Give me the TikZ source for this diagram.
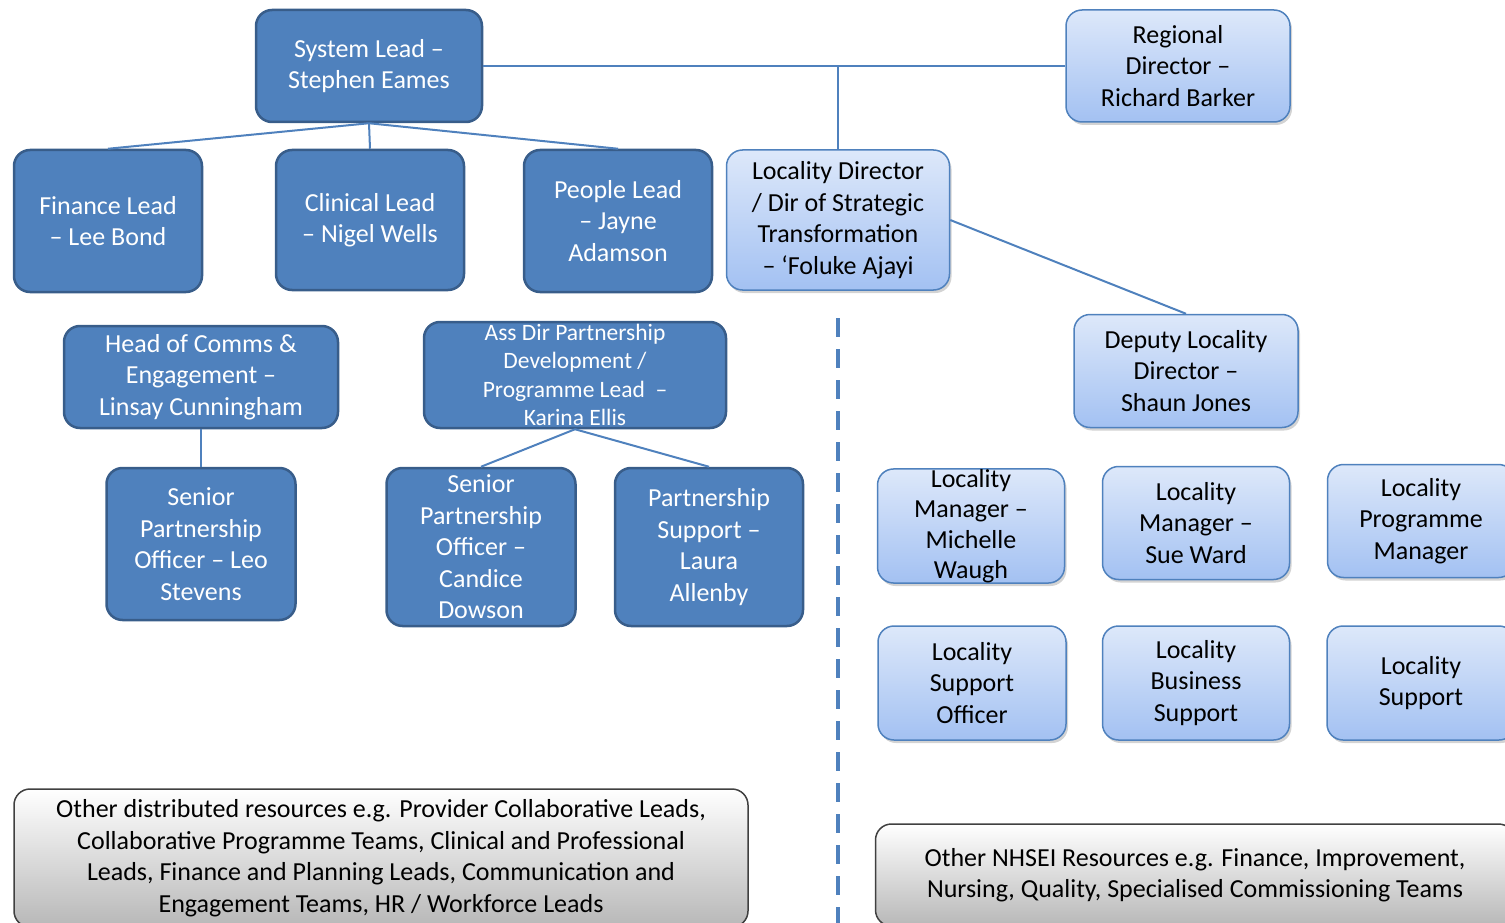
\documentclass[tikz,border=0pt]{standalone}
\usepackage{fontspec}
\setmainfont{Carlito}
\usetikzlibrary{shadows}

\definecolor{darkblue}{HTML}{4F81BD}
\definecolor{edgeblue}{HTML}{385D8A}
\definecolor{paleblue}{HTML}{DDE8FA}
\definecolor{midblue}{HTML}{A3C1F2}

\tikzset{
  orgbox/.style={rounded corners=16pt, inner sep=0pt, align=center, font=\fontsize{26}{31.5}\selectfont},
  darkbox/.style={orgbox, draw=edgeblue, line width=2.5pt, fill=darkblue, text=white},
  lightbox/.style={orgbox, draw=darkblue, line width=1.5pt, top color=paleblue, bottom color=midblue,
    drop shadow={shadow xshift=2pt, shadow yshift=-3pt, opacity=0.35}},
  greybox/.style={orgbox, draw=black!75, line width=1.5pt, top color=white, bottom color=black!28},
  link/.style={draw=darkblue, line width=2pt},
  divider/.style={draw=darkblue, line width=4pt, dash pattern=on 19pt off 12pt}
}

\begin{document}
\begin{tikzpicture}[x=1pt,y=-1pt]
	\useasboundingbox (0,0) rectangle (1505,923);

	% top row
	\draw (369,66) node[darkbox, minimum width=226pt, minimum height=112pt] (sys) {System Lead –\\Stephen Eames};
	\draw (1178,66) node[lightbox, minimum width=224pt, minimum height=112pt] (reg) {Regional\\Director –\\Richard Barker};

	% leads
	\draw (108,221) node[darkbox, minimum width=188pt, minimum height=142pt] (fin) {Finance Lead\\– Lee Bond};
	\draw (370,220) node[darkbox, minimum width=188pt, minimum height=140pt] (clin) {Clinical Lead\\– Nigel Wells};
	\draw (618,221) node[darkbox, minimum width=188pt, minimum height=142pt] (people) {People Lead\\– Jayne\\Adamson};
	\draw (838,220) node[lightbox, minimum width=223pt, minimum height=140pt] (locdir) {Locality Director\\/ Dir of Strategic\\Transformation\\– ‘Foluke Ajayi};
	\draw (1186,371) node[lightbox, minimum width=224pt, minimum height=113pt] (deputy) {Deputy Locality\\Director –\\Shaun Jones};

	% partnership team
	\draw (201,377) node[darkbox, minimum width=274pt, minimum height=102pt] (comms) {Head of Comms \&\\Engagement –\\Linsay Cunningham};
	\draw (575,375) node[darkbox, minimum width=302pt, minimum height=106pt, font=\fontsize{23.5}{28.5}\selectfont] (assdir) {Ass Dir Partnership\\Development /\\Programme Lead \ –\\Karina Ellis};
	\draw (201,544) node[darkbox, minimum width=189pt, minimum height=152pt] (leo) {Senior\\Partnership\\Officer – Leo\\Stevens};
	\draw (481,547) node[darkbox, minimum width=189pt, minimum height=158pt] (candice) {Senior\\Partnership\\Officer –\\Candice\\Dowson};
	\draw (709,547) node[darkbox, minimum width=188pt, minimum height=158pt] (psupport) {Partnership\\Support –\\Laura\\Allenby};

	% locality team
	\draw (971,526) node[lightbox, minimum width=187pt, minimum height=114pt, font=\fontsize{26}{30.5}\selectfont] (mgr1) {Locality\\Manager –\\Michelle\\Waugh};
	\draw (1196,523) node[lightbox, minimum width=187pt, minimum height=113pt] (mgr2) {Locality\\Manager –\\Sue Ward};
	\draw (1421,521) node[lightbox, minimum width=187pt, minimum height=113pt] (progmgr) {Locality\\Programme\\Manager};
	\draw (972,683) node[lightbox, minimum width=188pt, minimum height=114pt] (officer) {Locality\\Support\\Officer};
	\draw (1196,683) node[lightbox, minimum width=187pt, minimum height=114pt] (business) {Locality\\Business\\Support};
	\draw (1421,683) node[lightbox, minimum width=188pt, minimum height=114pt] (lsupport) {Locality\\Support};

	% other resources
	\draw (381,858) node[greybox, minimum width=734pt, minimum height=138pt] (otherdist) {Other distributed resources e.g. Provider Collaborative Leads,\\Collaborative Programme Teams, Clinical and Professional\\Leads, Finance and Planning Leads, Communication and\\Engagement Teams, HR / Workforce Leads};
	\draw (1195,875) node[greybox, minimum width=639pt, minimum height=102pt] (othernhsei) {Other NHSEI Resources e.g. Finance, Improvement,\\Nursing, Quality, Specialised Commissioning Teams};

	% connectors
	\draw [link] (sys.east) -- (reg.west);
	\draw [link] (locdir.north) -- (locdir.north |- sys.east);
	\draw [link] (sys.south) -- (fin.north);
	\draw [link] (sys.south) -- (clin.north);
	\draw [link] (sys.south) -- (people.north);
	\draw [link] (locdir.east) -- (deputy.north);
	\draw [link] (comms.south) -- (leo.north);
	\draw [link] (assdir.south) -- (candice.north);
	\draw [link] (assdir.south) -- (psupport.north);

	\coordinate (dashtop) at (838,318);
	\coordinate (dashbot) at (838,923);
	\draw [divider] (dashtop) -- (dashbot);
\end{tikzpicture}
\end{document}
